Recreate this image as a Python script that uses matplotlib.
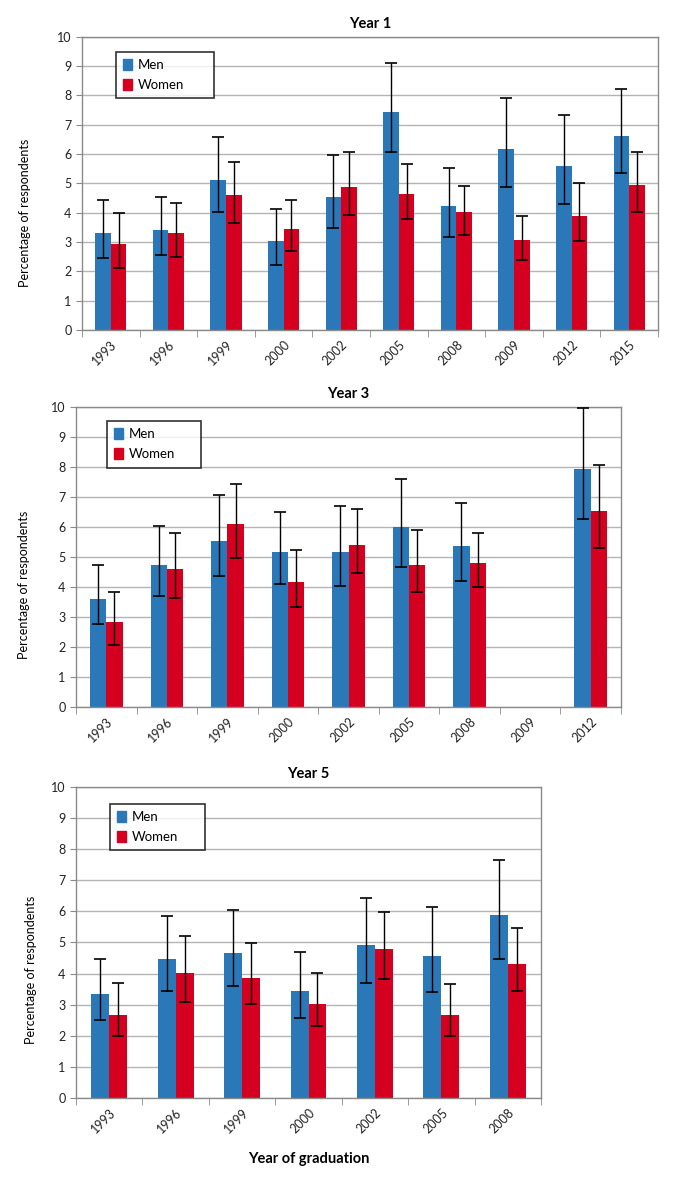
import numpy as np
import matplotlib.pyplot as plt
from matplotlib.patches import Patch

plt.rcParams['font.family'] = ['Lato', 'DejaVu Sans']

# ---- Year 1 ----
y1_years = ['1993', '1996', '1999', '2000', '2002', '2005', '2008', '2009', '2012', '2015']
y1_men = [3.32, 3.41, 5.12, 3.03, 4.55, 7.43, 4.22, 6.17, 5.60, 6.61]
y1_men_lo = [2.47, 2.57, 4.01, 2.23, 3.47, 6.07, 3.18, 4.86, 4.30, 5.34]
y1_men_hi = [4.43, 4.53, 6.59, 4.13, 5.97, 9.10, 5.53, 7.90, 7.33, 8.20]
y1_women = [2.93, 3.31, 4.60, 3.45, 4.89, 4.65, 4.03, 3.08, 3.89, 4.93]
y1_women_lo = [2.13, 2.50, 3.65, 2.68, 3.93, 3.80, 3.24, 2.40, 3.05, 4.03]
y1_women_hi = [4.00, 4.33, 5.72, 4.43, 6.06, 5.67, 4.90, 3.90, 5.00, 6.06]

# ---- Year 3 ----
y3_years = ['1993', '1996', '1999', '2000', '2002', '2005', '2008', '2009', '2012']
y3_men = [3.60, 4.73, 5.53, 5.16, 5.16, 5.98, 5.35, np.nan, 7.93]
y3_men_lo = [2.75, 3.69, 4.34, 4.10, 4.01, 4.65, 4.20, np.nan, 6.27]
y3_men_hi = [4.72, 6.02, 7.06, 6.49, 6.68, 7.58, 6.78, np.nan, 9.96]
y3_women = [2.82, 4.60, 6.09, 4.16, 5.39, 4.73, 4.79, np.nan, 6.51]
y3_women_lo = [2.04, 3.63, 4.94, 3.33, 4.47, 3.83, 3.98, np.nan, 5.28]
y3_women_hi = [3.83, 5.79, 7.43, 5.22, 6.59, 5.88, 5.79, np.nan, 8.04]

# ---- Year 5 ----
y5_years = ['1993', '1996', '1999', '2000', '2002', '2005', '2008']
y5_men = [3.35, 4.48, 4.66, 3.45, 4.90, 4.57, 5.88]
y5_men_lo = [2.52, 3.44, 3.61, 2.57, 3.70, 3.39, 4.46]
y5_men_hi = [4.47, 5.84, 6.04, 4.69, 6.41, 6.14, 7.66]
y5_women = [2.68, 4.01, 3.85, 3.03, 4.80, 2.68, 4.30]
y5_women_lo = [2.00, 3.08, 3.02, 2.30, 3.83, 2.00, 3.45]
y5_women_hi = [3.71, 5.19, 4.97, 4.02, 5.96, 3.65, 5.46]

blue = '#2A78B8'
red = '#D5001F'
grid_c = '#B4B4B4'
spine_c = '#8A8A8A'

fig = plt.figure(figsize=(6.8, 11.79), dpi=100)


def panel(rect, title, years, men, mlo, mhi, women, wlo, whi, leg_box, ylab_xy, xlabel=None):
    ax = fig.add_axes(rect)
    x = np.arange(len(years))
    w = 0.27
    men = np.array(men, dtype=float)
    women = np.array(women, dtype=float)
    men_err = [men - np.array(mlo), np.array(mhi) - men]
    women_err = [women - np.array(wlo), np.array(whi) - women]
    ax.bar(x - w / 2, men, w, color=blue, zorder=2, label='Men')
    ax.bar(x + w / 2, women, w, color=red, zorder=2, label='Women')
    ax.errorbar(x - w / 2, men, yerr=men_err, fmt='none', ecolor='black',
                elinewidth=1, capsize=4, capthick=1.2, zorder=3)
    ax.errorbar(x + w / 2, women, yerr=women_err, fmt='none', ecolor='black',
                elinewidth=1, capsize=4, capthick=1.2, zorder=3)
    ax.set_xlim(-0.5, len(years) - 0.5)
    ax.set_ylim(0, 10)
    ax.set_yticks(range(0, 11))
    ax.yaxis.grid(True, color=grid_c, lw=1)
    ax.set_axisbelow(True)
    ax.set_xticks(x)
    ax.set_xticklabels(years, rotation=45, ha='right', rotation_mode='anchor',
                       fontsize=9, color='#222222')
    ax.set_xticks(np.arange(-0.5, len(years)), minor=True)
    ax.tick_params(axis='x', which='major', length=0, pad=6)
    ax.tick_params(axis='x', which='minor', length=5, color=spine_c, direction='out')
    ax.tick_params(axis='y', length=4, color=spine_c, labelsize=9, labelcolor='#222222')
    for s in ax.spines.values():
        s.set_color(spine_c)
        s.set_linewidth(1)
    ax.set_title(title, fontsize=10.5, fontweight='bold', pad=6)
    ax.set_ylabel('Percentage of respondents', fontsize=9)
    ax.yaxis.set_label_coords(*ylab_xy)
    if xlabel:
        ax.set_xlabel(xlabel, fontsize=10.5, fontweight='bold', labelpad=12)
    handles = [Patch(color=blue, label='Men'), Patch(color=red, label='Women')]
    leg = ax.legend(handles=handles, loc='upper left', bbox_to_anchor=leg_box,
                    mode='expand', fontsize=9.5, frameon=True, fancybox=False,
                    handlelength=0.65, handleheight=0.9, handletextpad=0.45,
                    borderpad=0.55, labelspacing=0.6, borderaxespad=0)
    leg.get_frame().set_edgecolor('black')
    leg.get_frame().set_linewidth(1.2)
    return ax


panel([0.1206, 0.7201, 0.847, 0.2488], 'Year 1', y1_years,
      y1_men, y1_men_lo, y1_men_hi, y1_women, y1_women_lo, y1_women_hi,
      (0.0585, 0.949, 0.170, 0.0), (-0.088, 0.40))
panel([0.1118, 0.4006, 0.8015, 0.2545], 'Year 3', y3_years,
      y3_men, y3_men_lo, y3_men_hi, y3_women, y3_women_lo, y3_women_hi,
      (0.057, 0.952, 0.172, 0.0), (-0.085, 0.407))
panel([0.1118, 0.0687, 0.6838, 0.264], 'Year 5', y5_years,
      y5_men, y5_men_lo, y5_men_hi, y5_women, y5_women_lo, y5_women_hi,
      (0.073, 0.945, 0.204, 0.0), (-0.085, 0.413), xlabel='Year of graduation')

fig.savefig('out.png', dpi=100)
